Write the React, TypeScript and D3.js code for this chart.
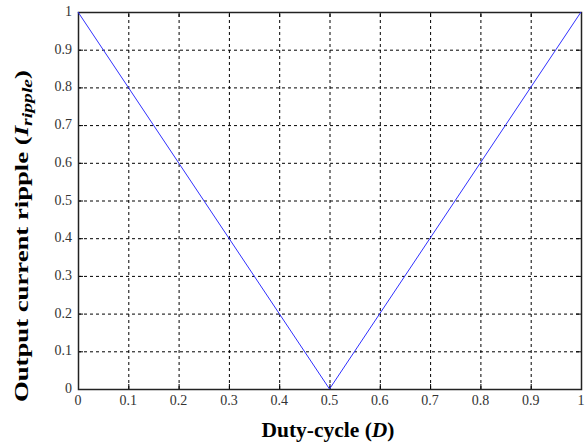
import { useEffect, useRef } from "react";
import * as d3 from "d3";

const dutyCycle = [0, 0.5, 1];
const ripple = [1, 0, 1];
const xTicks = [0, 0.1, 0.2, 0.3, 0.4, 0.5, 0.6, 0.7, 0.8, 0.9, 1];
const yTicks = [0, 0.1, 0.2, 0.3, 0.4, 0.5, 0.6, 0.7, 0.8, 0.9, 1];

const W = 588;
const H = 445;
const M = { left: 78, right: 7, top: 12, bottom: 56 };
const FONT = "'Liberation Serif', 'Times New Roman', serif";

export default function App() {
  const svgRef = useRef<SVGSVGElement>(null);

  useEffect(() => {
    if (!svgRef.current) return;
    const svg = d3.select(svgRef.current);
    svg.selectAll("*").remove();

    const x = d3.scaleLinear().domain([0, 1]).range([M.left, W - M.right]);
    const y = d3.scaleLinear().domain([0, 1]).range([H - M.bottom, M.top]);

    svg.append("rect").attr("width", W).attr("height", H).attr("fill", "#ffffff");

    // dashed grid
    const grid = svg.append("g").attr("stroke", "#000").attr("stroke-width", 1).attr("stroke-dasharray", "3,3");
    xTicks.slice(1, -1).forEach((t) => {
      grid.append("line")
        .attr("x1", x(t) + 0.5).attr("x2", x(t) + 0.5)
        .attr("y1", y(0)).attr("y2", y(1));
    });
    yTicks.slice(1, -1).forEach((t) => {
      grid.append("line")
        .attr("x1", x(0)).attr("x2", x(1))
        .attr("y1", y(t) + 0.5).attr("y2", y(t) + 0.5);
    });

    // inner tick marks
    const ticks = svg.append("g").attr("stroke", "#000").attr("stroke-width", 1);
    xTicks.forEach((t) => {
      ticks.append("line").attr("x1", x(t) + 0.5).attr("x2", x(t) + 0.5).attr("y1", y(0)).attr("y2", y(0) - 5);
      ticks.append("line").attr("x1", x(t) + 0.5).attr("x2", x(t) + 0.5).attr("y1", y(1)).attr("y2", y(1) + 5);
    });
    yTicks.forEach((t) => {
      ticks.append("line").attr("x1", x(0)).attr("x2", x(0) + 5).attr("y1", y(t) + 0.5).attr("y2", y(t) + 0.5);
      ticks.append("line").attr("x1", x(1)).attr("x2", x(1) - 5).attr("y1", y(t) + 0.5).attr("y2", y(t) + 0.5);
    });

    // box
    svg.append("rect")
      .attr("x", x(0) + 0.5).attr("y", y(1) + 0.5)
      .attr("width", x(1) - x(0)).attr("height", y(0) - y(1))
      .attr("fill", "none").attr("stroke", "#222").attr("stroke-width", 1.5);

    // ripple curve
    const line = d3.line<number>()
      .x((_, i) => x(dutyCycle[i]))
      .y((d) => y(d));
    svg.append("path")
      .datum(ripple)
      .attr("d", line)
      .attr("fill", "none")
      .attr("stroke", "#3030ff")
      .attr("stroke-width", 1);

    // tick labels
    const fmt = (v: number) => (v === 0 || v === 1 ? String(v) : v.toFixed(1));
    svg.append("g").selectAll("text").data(xTicks).join("text")
      .attr("x", (d) => x(d))
      .attr("y", y(0) + 16)
      .attr("text-anchor", "middle")
      .attr("font-family", FONT).attr("font-size", 14).attr("fill", "#333")
      .text(fmt);
    svg.append("g").selectAll("text").data(yTicks).join("text")
      .attr("x", x(0) - 6)
      .attr("y", (d) => y(d) + 4)
      .attr("text-anchor", "end")
      .attr("font-family", FONT).attr("font-size", 14).attr("fill", "#333")
      .text(fmt);

    // axis titles
    const xt = svg.append("text")
      .attr("x", 328).attr("y", H - 8)
      .attr("text-anchor", "middle")
      .attr("font-family", FONT).attr("font-size", 20).attr("font-weight", "bold")
      .attr("textLength", 133).attr("lengthAdjust", "spacingAndGlyphs");
    xt.append("tspan").text("Duty-cycle (");
    xt.append("tspan").attr("font-style", "italic").text("D");
    xt.append("tspan").text(")");

    const yt = svg.append("text")
      .attr("transform", `translate(28,236) rotate(-90)`)
      .attr("text-anchor", "middle")
      .attr("font-family", FONT).attr("font-size", 19).attr("font-weight", "bold")
      .attr("textLength", 332).attr("lengthAdjust", "spacingAndGlyphs");
    yt.append("tspan").text("Output current ripple (");
    yt.append("tspan").attr("font-style", "italic").text("I");
    yt.append("tspan").attr("font-style", "italic").attr("font-size", 14).attr("dy", 4).text("ripple");
    yt.append("tspan").attr("dy", -4).text(")");
  }, []);

  return (
    <svg
      ref={svgRef}
      width={W}
      height={H}
      viewBox={`0 0 ${W} ${H}`}
      style={{ position: "absolute", left: 0, top: 0 }}
    />
  );
}
